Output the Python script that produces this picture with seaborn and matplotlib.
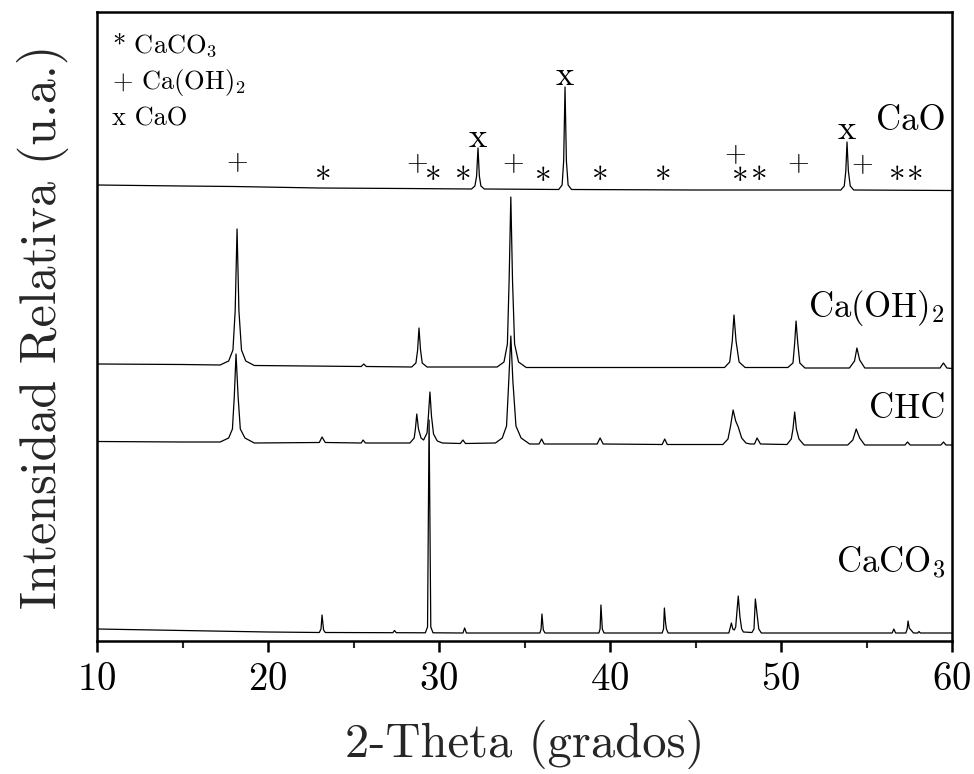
import matplotlib
matplotlib.use("Agg")
import matplotlib.pyplot as plt
import seaborn as sns
import pandas as pd

# ---------------- data ----------------
# CaO trace
cao_x = [10.0, 15.0, 18.0, 23.0, 28.0, 31.9, 32.1, 32.2, 32.28, 32.36, 32.45, 32.65,
         37.0, 37.2, 37.29, 37.37, 37.45, 37.55, 37.75, 45.0, 53.5, 53.7, 53.79, 53.86,
         53.94, 54.05, 54.25, 60.0]
cao_y = [456, 455, 454.5, 453, 452.5, 452, 455, 465, 493, 465, 455, 452,
         451.5, 456, 480, 554, 480, 456, 451.5, 451, 451, 455, 470, 499,
         470, 455, 451, 450.5]

# Ca(OH)2 trace
caoh_x = [10.0, 15.0, 17.2, 17.7, 17.95, 18.08, 18.19, 18.3, 18.45, 18.7, 19.2, 25.45, 25.6, 25.75,
          28.4, 28.65, 28.75, 28.83, 28.92, 29.02, 29.3, 33.4, 33.8, 34.0, 34.1, 34.2,
          34.3, 34.42, 34.65, 35.1, 46.7, 47.0, 47.15, 47.25, 47.37, 47.55, 47.9,
          50.4, 50.7, 50.8, 50.88, 50.98, 51.1, 51.4, 54.0, 54.3, 54.44, 54.6, 54.9,
          59.3, 59.5, 59.7, 60.0]
caoh_y = [277, 276.5, 276, 280, 291, 330, 412, 330, 291, 280, 275.5, 274.5, 277, 274.5,
          274, 278, 291, 313, 291, 278, 274, 274, 279, 297, 360, 444,
          360, 297, 279, 273.5, 273.5, 279, 300, 326, 300, 279, 273.5,
          273.5, 278, 298, 320, 298, 278, 273, 273, 280, 293, 281, 273,
          273, 278, 273, 272.5]

# CHC trace
chc_x = [10.0, 15.0, 17.2, 17.7, 17.92, 18.03, 18.13, 18.25, 18.38, 18.65, 19.2,
         23.0, 23.16, 23.35, 25.45, 25.56, 25.7,
         28.3, 28.55, 28.62, 28.7, 28.8, 28.95, 29.1, 29.3, 29.38, 29.47, 29.56, 29.68, 29.9, 30.2,
         31.25, 31.4, 31.55, 33.3, 33.7, 33.95, 34.08, 34.2, 34.32, 34.5, 34.8, 35.3,
         35.85, 36.0, 36.15, 39.25, 39.42, 39.6, 43.05, 43.2, 43.35,
         46.6, 46.9, 47.05, 47.2, 47.35, 47.5, 47.7, 47.95, 48.2, 48.45, 48.6, 48.8,
         50.35, 50.6, 50.7, 50.8, 50.9, 51.05, 51.35, 53.9, 54.2, 54.4, 54.6, 54.9,
         57.25, 57.4, 57.55, 59.35, 59.5, 59.65, 60.0]
chc_y = [199.5, 199, 199, 203, 212, 245, 287, 245, 212, 203, 198,
         198.5, 204, 198.5, 198, 201, 198,
         198, 203, 212, 227, 212, 203, 201, 208, 225, 249, 225, 207, 200, 198,
         197.5, 201, 197.5, 198, 203, 215, 260, 305, 260, 215, 203, 197,
         197, 202, 197, 197, 203, 197, 196.5, 202, 196.5,
         196.5, 202, 215, 231, 220, 214, 203, 198, 197, 197, 203, 197,
         196.5, 202, 212, 229, 212, 202, 196, 196, 201, 212, 203, 196,
         196, 199, 196, 196, 199, 196, 196]

# CaCO3 trace
caco3_x = [10.0, 15.0, 20.0, 23.0, 23.1, 23.16, 23.25, 23.35, 27.3, 27.4, 27.5,
           29.2, 29.33, 29.42, 29.52, 29.65, 31.4, 31.5, 31.6,
           35.9, 35.97, 36.02, 36.1, 36.2, 39.35, 39.42, 39.47, 39.55, 39.65,
           43.05, 43.13, 43.18, 43.25, 43.3, 43.4,
           46.95, 47.1, 47.18, 47.27, 47.35, 47.5, 47.6, 47.7, 47.8, 48.3, 48.42, 48.5, 48.6, 48.7, 48.85,
           56.5, 56.6, 56.7, 57.3, 57.38, 57.43, 57.5, 57.6, 57.75, 58.0, 58.07, 58.15, 60.0]
caco3_y = [12, 10.5, 9, 8.5, 12, 26, 11, 8.5, 8.3, 10.5, 8.3,
           8.2, 14, 221, 14, 8.2, 8, 13, 8,
           8, 12, 27, 11, 8, 8, 12, 36, 12, 8,
           8, 12, 33, 18, 12, 8,
           8, 18, 12, 11, 14, 45, 24, 12, 9, 8.5, 12, 42, 27, 12, 8,
           8, 12, 8, 8, 12, 20, 13, 11, 8, 8, 9.5, 8, 8]

# phase markers above the CaO trace
calcite_pos = [23.22, 29.66, 31.40, 36.08, 39.42, 43.10, 47.62, 48.70, 56.82, 57.82]
calcite_h = [459, 459, 459, 458, 459, 459, 458, 459, 459, 459]
portlandite_pos = [18.19, 28.70, 34.33, 47.31, 50.99, 54.74]
portlandite_h = [478, 477, 477, 486, 477, 476]
lime_pos = [32.28, 37.37, 53.86]
lime_h = [503, 565, 511]

trace_labels = ["CaO", "Ca(OH)$_2$", "CHC", "CaCO$_3$"]
trace_label_y = [511, 324, 223, 68]
legend_lines = ["* CaCO$_3$", "+ Ca(OH)$_2$", "x CaO"]
x_ticks = [10, 20, 30, 40, 50, 60]

# ---------------- plotting ----------------
sns.set_theme(style="ticks")
plt.rcParams["font.family"] = ["cmr10", "DejaVu Serif"]
plt.rcParams["mathtext.fontset"] = "cm"
plt.rcParams["axes.formatter.use_mathtext"] = True

fig = plt.figure(figsize=(9.74, 7.74), dpi=100)
ax = fig.add_axes([97 / 974, 1 - 641 / 774, 855 / 974, 629 / 774])

for xs, ys in [(cao_x, cao_y), (caoh_x, caoh_y), (chc_x, chc_y), (caco3_x, caco3_y)]:
    df = pd.DataFrame({"x": xs, "y": ys})
    sns.lineplot(data=df, x="x", y="y", ax=ax, color="black", linewidth=0.9,
                 estimator=None, sort=False)

for px, h in zip(calcite_pos, calcite_h):
    ax.text(px, h, "*", fontsize=24, ha="center", va="center", color="black")
for px, h in zip(portlandite_pos, portlandite_h):
    ax.text(px, h, "+", fontsize=20, ha="center", va="center", color="black",
            fontweight="bold")
for px, h in zip(lime_pos, lime_h):
    ax.text(px, h, "x", fontsize=25, ha="center", va="center", color="black")

for lab, yy in zip(trace_labels, trace_label_y):
    ax.text(59.6, yy, lab, fontsize=25, ha="right", va="baseline", color="black")

for i, lab in enumerate(legend_lines):
    ax.text(0.0175, 1 - (41 + 36 * i) / 629, lab, transform=ax.transAxes,
            fontsize=19, ha="left", va="baseline", color="black")

ax.set_xlim(10, 60)
ax.set_ylim(0, 629)
ax.set_xticks(x_ticks)
ax.set_xticks([15, 25, 35, 45, 55], minor=True)
ax.set_yticks([])
ax.tick_params(axis="x", which="major", direction="out", length=8, width=1.8,
               labelsize=28, pad=7, colors="black")
ax.tick_params(axis="x", which="minor", direction="out", length=5, width=1.5)
for s in ax.spines.values():
    s.set_visible(True)
    s.set_linewidth(1.8)
    s.set_color("black")
ax.set_xlabel("2-Theta (grados)", fontsize=35, labelpad=16)
ax.set_ylabel("Intensidad Relativa (u.a.)", fontsize=36, labelpad=20)

fig.savefig("out.png", dpi=100)
